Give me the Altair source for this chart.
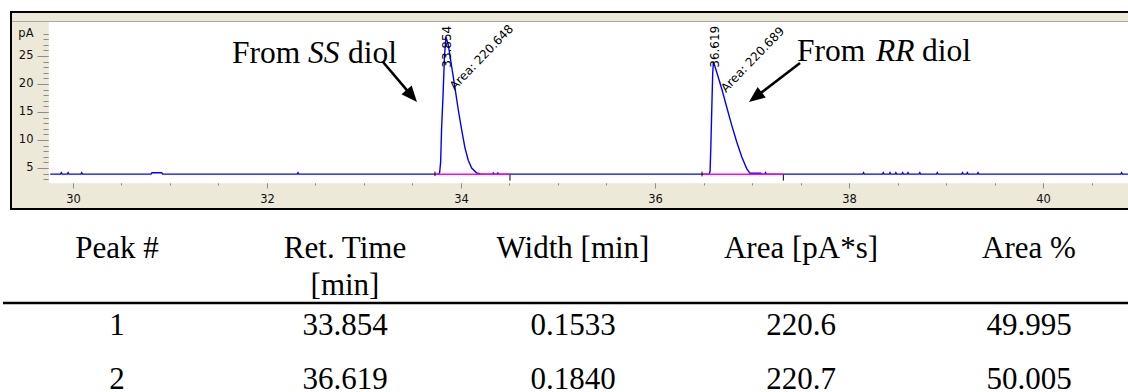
import math
import altair as alt
import pandas as pd

# ---------------- values ----------------
# chromatogram trace: retention time (min) and signal (pA)
trace_time = [29.753, 29.872, 29.880, 29.888, 29.942, 29.950, 29.958, 30.082, 30.090, 30.098,
              30.805, 30.815, 30.915, 30.925, 32.312, 32.320, 32.328,
              33.770, 33.780, 33.790, 33.800, 33.815, 33.830, 33.845, 33.869, 33.904, 33.938,
              33.972, 34.007, 34.041, 34.075, 34.110, 34.162, 34.200, 34.240,
              34.325, 34.333, 34.341, 34.372, 34.380, 34.388,
              36.560, 36.568, 36.576, 36.586, 36.595, 36.603, 36.635, 36.687, 36.739, 36.790,
              36.842, 36.894, 36.945, 36.979, 37.090, 37.100,
              37.132, 37.140, 37.148, 38.142, 38.150, 38.158, 38.345, 38.353, 38.361,
              38.415, 38.423, 38.431, 38.475, 38.483, 38.491, 38.545, 38.553, 38.561,
              38.600, 38.608, 38.616, 38.722, 38.730, 38.738, 38.902, 38.910, 38.918,
              39.162, 39.170, 39.178, 39.212, 39.220, 39.228, 39.322, 39.330, 39.338,
              40.802, 40.810, 40.818, 40.876]
trace_pa = [3.90, 3.90, 4.15, 3.90, 3.90, 4.15, 3.90, 3.90, 4.15, 3.90,
            3.90, 4.15, 4.15, 3.90, 3.90, 4.15, 3.90,
            3.90, 4.20, 6.00, 12.0, 18.0, 25.0, 28.4, 27.0, 23.1, 19.3,
            15.4, 11.8, 8.6, 6.4, 5.0, 4.1, 3.95, 3.90,
            3.90, 4.10, 3.90, 3.90, 4.10, 3.90,
            3.90, 4.50, 9.00, 16.0, 22.0, 24.0, 22.2, 19.2, 15.9, 12.7,
            9.7, 7.0, 4.9, 4.05, 4.05, 3.90,
            3.90, 4.15, 3.90, 3.90, 4.15, 3.90, 3.90, 4.15, 3.90,
            3.90, 4.15, 3.90, 3.90, 4.15, 3.90, 3.90, 4.15, 3.90,
            3.90, 4.15, 3.90, 3.90, 4.15, 3.90, 3.90, 4.15, 3.90,
            3.90, 4.15, 3.90, 3.90, 4.15, 3.90, 3.90, 4.15, 3.90,
            3.90, 4.15, 3.90, 3.90]

# integration baselines (magenta) and event ticks
baseline_start = [33.732, 36.485]
baseline_end = [34.505, 37.323]
baseline_level = [3.9, 3.9]
event_time = [33.732, 34.505, 36.485, 37.323]
event_lo = [3.55, 2.75, 3.50, 2.75]
event_hi = [4.35, 3.80, 4.35, 3.80]

# peak annotations
peak_rt = [33.854, 36.619]
peak_rt_label = ["33.854", "36.619"]
peak_label_base = [22.9, 22.9]
area_label = ["Area: 220.648", "Area: 220.689"]
area_label_time = [33.907, 36.701]
area_label_pa = [19.3, 18.9]

# "From SS diol" / "From RR diol" notes (word start positions in data units)
note_words = ["From", "SS", "diol", "From", "RR", "diol"]
note_italic = [False, True, False, False, True, False]
note_time = [31.639, 32.423, 32.835, 37.464, 38.278, 38.753]
note_pa = [23.75, 23.75, 23.75, 24.11, 24.11, 24.11]

# arrows (tail -> tip, data units)
arrow_tail_time = [33.196, 37.495]
arrow_tail_pa = [23.93, 23.75]
arrow_tip_time = [33.546, 36.969]
arrow_tip_pa = [16.79, 16.79]

# axis ticks
x_major = [30, 32, 34, 36, 38, 40]
y_major = [5, 10, 15, 20, 25]

# results table
table_keys = ["peak", "rt", "width", "area", "pct"]
table_headers = ["Peak #", "Ret. Time\n[min]", "Width [min]", "Area [pA*s]", "Area %"]
col_peak = ["1", "2"]
col_ret = ["33.854", "36.619"]
col_width = ["0.1533", "0.1840"]
col_area = ["220.6", "220.7"]
col_pct = ["49.995", "50.005"]

# ---------------- layout ----------------
W, H = 1128, 392
X_DOMAIN = [29.753, 40.876]
X_RANGE = [49, 1128]
Y_DOMAIN = [2.5, 31.07]
Y_RANGE = [182, 22]
BEIGE = "#ECE9D8"
SERIF = "Liberation Serif"
SANS = "DejaVu Sans"


def px_x(t):
    return X_RANGE[0] + (t - X_DOMAIN[0]) * (X_RANGE[1] - X_RANGE[0]) / (X_DOMAIN[1] - X_DOMAIN[0])


def px_y(v):
    return Y_RANGE[0] + (v - Y_DOMAIN[0]) * (Y_RANGE[1] - Y_RANGE[0]) / (Y_DOMAIN[1] - Y_DOMAIN[0])


def xs():
    return alt.Scale(domain=X_DOMAIN, range=X_RANGE, nice=False, zero=False)


def ys():
    return alt.Scale(domain=Y_DOMAIN, range=Y_RANGE, nice=False, zero=False)


x_minor = [v / 2 for v in range(61, 82) if v % 4 != 0]
y_minor = [v for v in range(3, 31) if v % 5 != 0]

# ---------------- frames ----------------
one = pd.DataFrame({"k": [0]})
frame = alt.Chart(one).mark_rect(fill=BEIGE, stroke="black", strokeWidth=2).encode(
    x=alt.value(11), x2=alt.value(1140), y=alt.value(12), y2=alt.value(209))
plot_bg = alt.Chart(one).mark_rect(fill="white").encode(
    x=alt.value(49), x2=alt.value(1140), y=alt.value(21.5), y2=alt.value(182))
sep = alt.Chart(one).mark_rule(color="#A8A8A0", strokeWidth=1).encode(
    x=alt.value(12), x2=alt.value(1140), y=alt.value(21.5))

trace_df = pd.DataFrame({"time": trace_time, "pA": trace_pa})

# minor ticks (own axes)
minor = alt.Chart(trace_df).mark_line(opacity=0).encode(
    x=alt.X("time:Q", scale=xs(), axis=alt.Axis(
        values=x_minor, orient="bottom", offset=-(H - 182), labels=False, domain=False,
        grid=False, title=None, tickSize=3, tickColor="#8C8C8C", zindex=1)),
    y=alt.Y("pA:Q", scale=ys(), axis=alt.Axis(
        values=y_minor, orient="left", offset=-49, labels=False, domain=False,
        grid=False, title=None, tickSize=6, tickColor="#8C8C8C", zindex=1)),
)

x_axis = alt.Axis(values=x_major, orient="bottom", offset=-(H - 182), tickSize=6,
                  labelPadding=5, grid=False, title=None, zindex=2, labelFont=SANS,
                  labelFontSize=11.5, labelColor="#111111", tickColor="#8C8C8C",
                  domainColor="#FFFFFF", domainWidth=1.5, labelFlush=False, labelOverlap=False)
y_axis = alt.Axis(values=y_major, orient="left", offset=-49, tickSize=12, labelPadding=4,
                  grid=False, zindex=2, labelFont=SANS, labelFontSize=11.5,
                  labelColor="#111111", tickColor="#8C8C8C", domainColor="#FFFFFF",
                  domainWidth=1.5, labelFlush=False, labelOverlap=False,
                  title="pA", titleAngle=0, titleAlign="right", titleBaseline="middle",
                  titleX=-16, titleY=33, titleFont=SANS, titleFontSize=11.5,
                  titleFontWeight="normal", titleColor="#111111")

trace = alt.Chart(trace_df).mark_line(color="#0000FF", strokeWidth=1.4).encode(
    x=alt.X("time:Q", scale=xs(), axis=x_axis),
    y=alt.Y("pA:Q", scale=ys(), axis=y_axis),
)

base_df = pd.DataFrame({"t0": baseline_start, "t1": baseline_end, "v": baseline_level})
baselines = alt.Chart(base_df).mark_rule(color="#FF00FF", strokeWidth=1.5).encode(
    x=alt.X("t0:Q", scale=xs(), axis=None), x2="t1:Q",
    y=alt.Y("v:Q", scale=ys(), axis=None))

event_df = pd.DataFrame({"time": event_time, "lo": event_lo, "hi": event_hi})
events = alt.Chart(event_df).mark_rule(color="black", strokeWidth=1).encode(
    x=alt.X("time:Q", scale=xs(), axis=None),
    y=alt.Y("lo:Q", scale=ys(), axis=None), y2="hi:Q")

rt_df = pd.DataFrame({"time": peak_rt, "pA": peak_label_base, "label": peak_rt_label})
rt_labels = alt.Chart(rt_df).mark_text(angle=270, align="left", baseline="middle",
                                      font=SANS, fontSize=12, color="black").encode(
    x=alt.X("time:Q", scale=xs(), axis=None), y=alt.Y("pA:Q", scale=ys(), axis=None),
    text="label:N")

area_df = pd.DataFrame({"time": area_label_time, "pA": area_label_pa, "label": area_label})
area_labels = alt.Chart(area_df).mark_text(angle=314, align="left", baseline="middle",
                                          font=SANS, fontSize=12, color="black").encode(
    x=alt.X("time:Q", scale=xs(), axis=None), y=alt.Y("pA:Q", scale=ys(), axis=None),
    text="label:N")

note_df = pd.DataFrame({"time": note_time, "pA": note_pa, "word": note_words,
                        "italic": note_italic})
notes_n = alt.Chart(note_df[~note_df["italic"]]).mark_text(
    align="left", baseline="alphabetic", font=SERIF, fontSize=31.5, color="black").encode(
    x=alt.X("time:Q", scale=xs(), axis=None), y=alt.Y("pA:Q", scale=ys(), axis=None),
    text="word:N")
notes_i = alt.Chart(note_df[note_df["italic"]]).mark_text(
    align="left", baseline="alphabetic", font=SERIF, fontSize=31.5, fontStyle="italic",
    color="black").encode(
    x=alt.X("time:Q", scale=xs(), axis=None), y=alt.Y("pA:Q", scale=ys(), axis=None),
    text="word:N")

# arrows: shaft stops inside the head, head rotated along the shaft
HEAD_LEN = 16
rows = []
for t0, v0, t1, v1 in zip(arrow_tail_time, arrow_tail_pa, arrow_tip_time, arrow_tip_pa):
    dx = px_x(t1) - px_x(t0)
    dy = px_y(v1) - px_y(v0)
    length = math.hypot(dx, dy)
    f = 1 - 9 / length
    rot = (math.degrees(math.atan2(dy, dx)) + 90) % 360
    rows.append({"t0": t0, "v0": v0, "te": t0 + (t1 - t0) * f, "ve": v0 + (v1 - v0) * f,
                 "t1": t1, "v1": v1, "rot": rot})
arrow_df = pd.DataFrame(rows)
arrow_lines = alt.Chart(arrow_df).mark_rule(color="black", strokeWidth=2.6).encode(
    x=alt.X("t0:Q", scale=xs(), axis=None), y=alt.Y("v0:Q", scale=ys(), axis=None),
    x2="te:Q", y2="ve:Q")
arrow_heads = alt.Chart(arrow_df).mark_point(
    shape="M0,0L0.42,1L-0.42,1Z", size=(2 * HEAD_LEN) ** 2, filled=True, color="black",
    opacity=1, strokeWidth=0).encode(
    x=alt.X("t1:Q", scale=xs(), axis=None), y=alt.Y("v1:Q", scale=ys(), axis=None),
    angle=alt.Angle("rot:Q", scale=None))

# ---------------- table ----------------
def tx():
    return alt.Scale(type="band", domain=table_keys, range=[3, 1143], paddingInner=0,
                     paddingOuter=0)


def ty():
    return alt.Scale(domain=[0, 2], range=[281, 389], nice=False, zero=False)


hdr_df = pd.DataFrame({"col": table_keys, "row": [0] * 5, "text": table_headers})
body_cols = [col_peak, col_ret, col_width, col_area, col_pct]
body_df = pd.DataFrame([{"col": table_keys[c], "row": r + 1, "text": body_cols[c][r]}
                        for r in range(2) for c in range(5)])

header = alt.Chart(hdr_df).mark_text(
    font=SERIF, fontSize=31, align="center", baseline="alphabetic", lineBreak="\n",
    lineHeight=37, dy=-23, color="black").encode(
    x=alt.X("col:N", scale=tx(), axis=None), y=alt.Y("row:Q", scale=ty(), axis=None),
    text="text:N")
body = alt.Chart(body_df).mark_text(
    font=SERIF, fontSize=31, align="center", baseline="alphabetic", color="black").encode(
    x=alt.X("col:N", scale=tx(), axis=None), y=alt.Y("row:Q", scale=ty(), axis=None),
    text="text:N")
table_rule = alt.Chart(one).mark_rule(color="black", strokeWidth=2.5).encode(
    x=alt.value(3), x2=alt.value(1128), y=alt.value(303))

chart = alt.layer(
    frame, plot_bg, sep, minor, trace, baselines, events, rt_labels, area_labels,
    notes_n, notes_i, arrow_lines, arrow_heads, header, body, table_rule
).resolve_scale(
    x="independent", y="independent"
).properties(
    width=W, height=H, padding=0, background="white",
    autosize=alt.AutoSizeParams(type="none"),
).configure_view(stroke=None)

chart.save("out.html", embed_options={"renderer": "svg", "actions": False})
